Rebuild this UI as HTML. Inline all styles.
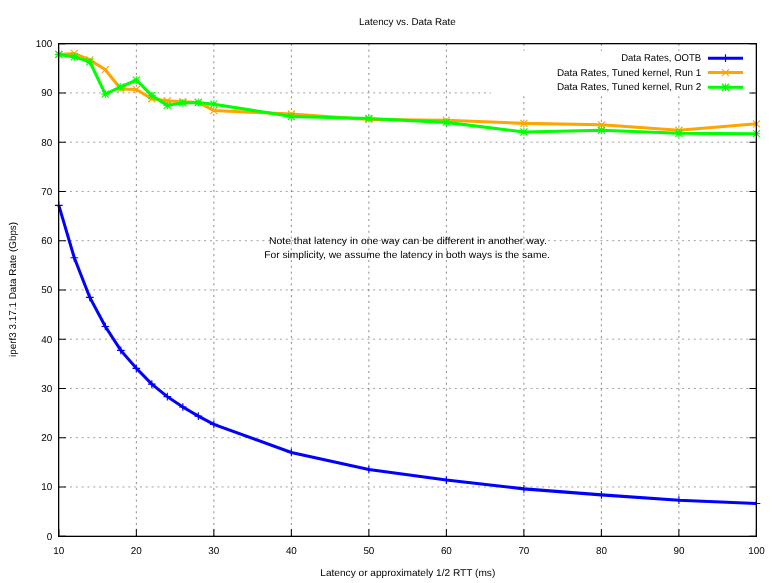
<!DOCTYPE html>
<html><head><meta charset="utf-8"><title>Latency vs. Data Rate</title>
<style>html,body{margin:0;padding:0;background:#fff;}svg{display:block;}svg{will-change:transform;}text{font-family:"Liberation Sans",sans-serif;font-size:9.90px;fill:#000;text-rendering:geometricPrecision;}</style>
</head><body>
<svg width="777" height="583" viewBox="0 0 777 583">
<rect x="0" y="0" width="777" height="583" fill="#ffffff"/>
<g stroke="#000" stroke-opacity="0.46" stroke-width="0.8" stroke-dasharray="2.05 3.78" fill="none">
<path d="M58.30 486.95H756.40"/>
<path d="M58.30 437.69H756.40"/>
<path d="M58.30 388.44H756.40"/>
<path d="M58.30 339.18H756.40"/>
<path d="M58.30 289.93H756.40"/>
<path d="M58.30 240.67H756.40"/>
<path d="M58.30 191.41H756.40"/>
<path d="M58.30 142.16H756.40"/>
<path d="M58.30 92.90H756.40"/>
</g>
<g stroke="#000" stroke-opacity="0.56" stroke-width="0.8" stroke-dasharray="2.15 3.695" fill="none">
<path d="M136.36 43.65V536.20"/>
<path d="M213.86 43.65V536.20"/>
<path d="M291.37 43.65V536.20"/>
<path d="M368.87 43.65V536.20"/>
<path d="M446.38 43.65V536.20"/>
<path d="M523.88 43.65V536.20"/>
<path d="M601.39 43.65V536.20"/>
<path d="M678.89 43.65V536.20"/>
</g>
<g stroke="#000" stroke-width="1.05" fill="none">
<path d="M58.85 536.20h7.00M756.40 536.20h-7.00"/>
<path d="M58.85 486.95h7.00M756.40 486.95h-7.00"/>
<path d="M58.85 437.69h7.00M756.40 437.69h-7.00"/>
<path d="M58.85 388.44h7.00M756.40 388.44h-7.00"/>
<path d="M58.85 339.18h7.00M756.40 339.18h-7.00"/>
<path d="M58.85 289.93h7.00M756.40 289.93h-7.00"/>
<path d="M58.85 240.67h7.00M756.40 240.67h-7.00"/>
<path d="M58.85 191.41h7.00M756.40 191.41h-7.00"/>
<path d="M58.85 142.16h7.00M756.40 142.16h-7.00"/>
<path d="M58.85 92.90h7.00M756.40 92.90h-7.00"/>
<path d="M58.85 43.65h7.00M756.40 43.65h-7.00"/>
<path d="M58.85 536.20v-7.00"/>
<path d="M136.36 536.20v-7.00"/>
<path d="M213.86 536.20v-7.00"/>
<path d="M291.37 536.20v-7.00"/>
<path d="M368.87 536.20v-7.00"/>
<path d="M446.38 536.20v-7.00"/>
<path d="M523.88 536.20v-7.00"/>
<path d="M601.39 536.20v-7.00"/>
<path d="M678.89 536.20v-7.00"/>
<path d="M756.40 536.20v-7.00"/>
</g>
<g text-anchor="end">
<text x="52.3" y="539.65">0</text>
<text x="52.3" y="490.40">10</text>
<text x="52.3" y="441.14">20</text>
<text x="52.3" y="391.89">30</text>
<text x="52.3" y="342.63">40</text>
<text x="52.3" y="293.38">50</text>
<text x="52.3" y="244.12">60</text>
<text x="52.3" y="194.86">70</text>
<text x="52.3" y="145.61">80</text>
<text x="52.3" y="96.35">90</text>
<text x="52.3" y="47.10">100</text>
</g>
<g text-anchor="middle">
<text x="58.85" y="554.2">10</text>
<text x="136.36" y="554.2">20</text>
<text x="213.86" y="554.2">30</text>
<text x="291.37" y="554.2">40</text>
<text x="368.87" y="554.2">50</text>
<text x="446.38" y="554.2">60</text>
<text x="523.88" y="554.2">70</text>
<text x="601.39" y="554.2">80</text>
<text x="678.89" y="554.2">90</text>
<text x="756.40" y="554.2">100</text>
</g>
<text x="407.9" y="243.8" text-anchor="middle" textLength="277.8" lengthAdjust="spacingAndGlyphs">Note that latency in one way can be different in another way.</text>
<text x="407.1" y="257.9" text-anchor="middle" textLength="285.6" lengthAdjust="spacingAndGlyphs">For simplicity, we assume the latency in both ways is the same.</text>
<text x="407.4" y="25.1" text-anchor="middle" textLength="96.8" lengthAdjust="spacingAndGlyphs">Latency vs. Data Rate</text>
<text x="407.8" y="576.0" text-anchor="middle" textLength="175" lengthAdjust="spacingAndGlyphs">Latency or approximately 1/2 RTT (ms)</text>
<text transform="translate(15.7 289.4) rotate(-90)" text-anchor="middle" textLength="135" lengthAdjust="spacingAndGlyphs">iperf3 3.17.1 Data Rate (Gbps)</text>
<path d="M58.80 205.35L74.30 257.79L89.81 297.43L105.31 326.48L120.81 350.37L136.32 368.34L151.82 384.09L167.32 396.65L182.83 406.99L198.33 416.10L213.83 424.32L291.35 452.49L368.87 469.53L446.38 480.11L523.90 488.88L601.42 494.88L678.93 500.20L756.45 503.50" stroke="#0000ff" stroke-width="3.03" fill="none" stroke-linejoin="miter" stroke-linecap="butt"/>
<path d="M54.95 205.35h7.70M58.80 201.50v7.70M70.45 257.79h7.70M74.30 253.94v7.70M85.96 297.43h7.70M89.81 293.58v7.70M101.46 326.48h7.70M105.31 322.63v7.70M116.96 350.37h7.70M120.81 346.52v7.70M132.47 368.34h7.70M136.32 364.49v7.70M147.97 384.09h7.70M151.82 380.24v7.70M163.47 396.65h7.70M167.32 392.80v7.70M178.98 406.99h7.70M182.83 403.14v7.70M194.48 416.10h7.70M198.33 412.25v7.70M209.98 424.32h7.70M213.83 420.47v7.70M287.50 452.49h7.70M291.35 448.64v7.70M365.02 469.53h7.70M368.87 465.68v7.70M442.53 480.11h7.70M446.38 476.26v7.70M520.05 488.88h7.70M523.90 485.03v7.70M597.57 494.88h7.70M601.42 491.03v7.70M675.08 500.20h7.70M678.93 496.35v7.70M752.60 503.50h7.70M756.45 499.65v7.70" stroke="#0000ff" stroke-width="1.15" fill="none"/>
<path d="M58.80 54.43L74.30 53.45L89.81 59.85L105.31 69.70L120.81 88.90L136.32 89.39L151.82 98.75L167.32 100.72L182.83 101.70L198.33 102.44L213.83 110.57L291.35 114.01L368.87 119.43L446.38 120.17L523.90 123.37L601.42 124.85L678.93 130.26L756.45 123.86" stroke="#ffa500" stroke-width="3.03" fill="none" stroke-linejoin="miter" stroke-linecap="butt"/>
<path d="M55.30 50.93l7.00 7.00M55.30 57.93l7.00 -7.00M70.80 49.95l7.00 7.00M70.80 56.95l7.00 -7.00M86.31 56.35l7.00 7.00M86.31 63.35l7.00 -7.00M101.81 66.20l7.00 7.00M101.81 73.20l7.00 -7.00M117.31 85.40l7.00 7.00M117.31 92.40l7.00 -7.00M132.82 85.89l7.00 7.00M132.82 92.89l7.00 -7.00M148.32 95.25l7.00 7.00M148.32 102.25l7.00 -7.00M163.82 97.22l7.00 7.00M163.82 104.22l7.00 -7.00M179.33 98.20l7.00 7.00M179.33 105.20l7.00 -7.00M194.83 98.94l7.00 7.00M194.83 105.94l7.00 -7.00M210.33 107.07l7.00 7.00M210.33 114.07l7.00 -7.00M287.85 110.51l7.00 7.00M287.85 117.51l7.00 -7.00M365.37 115.93l7.00 7.00M365.37 122.93l7.00 -7.00M442.88 116.67l7.00 7.00M442.88 123.67l7.00 -7.00M520.40 119.87l7.00 7.00M520.40 126.87l7.00 -7.00M597.92 121.35l7.00 7.00M597.92 128.35l7.00 -7.00M675.43 126.76l7.00 7.00M675.43 133.76l7.00 -7.00M752.95 120.36l7.00 7.00M752.95 127.36l7.00 -7.00" stroke="#ffa500" stroke-width="1.15" fill="none"/>
<path d="M58.80 54.43L74.30 56.89L89.81 61.82L105.31 94.07L120.81 86.93L136.32 80.04L151.82 95.50L167.32 105.40L182.83 102.84L198.33 102.44L213.83 104.17L291.35 116.48L368.87 118.44L446.38 122.38L523.90 131.99L601.42 130.26L678.93 133.22L756.45 133.71" stroke="#00ff00" stroke-width="3.03" fill="none" stroke-linejoin="miter" stroke-linecap="butt"/>
<path d="M54.95 54.43h7.70M58.80 50.58v7.70M55.30 50.93l7.00 7.00M55.30 57.93l7.00 -7.00M70.45 56.89h7.70M74.30 53.04v7.70M70.80 53.39l7.00 7.00M70.80 60.39l7.00 -7.00M85.96 61.82h7.70M89.81 57.97v7.70M86.31 58.32l7.00 7.00M86.31 65.32l7.00 -7.00M101.46 94.07h7.70M105.31 90.22v7.70M101.81 90.57l7.00 7.00M101.81 97.57l7.00 -7.00M116.96 86.93h7.70M120.81 83.08v7.70M117.31 83.43l7.00 7.00M117.31 90.43l7.00 -7.00M132.47 80.04h7.70M136.32 76.19v7.70M132.82 76.54l7.00 7.00M132.82 83.54l7.00 -7.00M147.97 95.50h7.70M151.82 91.65v7.70M148.32 92.00l7.00 7.00M148.32 99.00l7.00 -7.00M163.47 105.40h7.70M167.32 101.55v7.70M163.82 101.90l7.00 7.00M163.82 108.90l7.00 -7.00M178.98 102.84h7.70M182.83 98.99v7.70M179.33 99.34l7.00 7.00M179.33 106.34l7.00 -7.00M194.48 102.44h7.70M198.33 98.59v7.70M194.83 98.94l7.00 7.00M194.83 105.94l7.00 -7.00M209.98 104.17h7.70M213.83 100.32v7.70M210.33 100.67l7.00 7.00M210.33 107.67l7.00 -7.00M287.50 116.48h7.70M291.35 112.63v7.70M287.85 112.98l7.00 7.00M287.85 119.98l7.00 -7.00M365.02 118.44h7.70M368.87 114.59v7.70M365.37 114.94l7.00 7.00M365.37 121.94l7.00 -7.00M442.53 122.38h7.70M446.38 118.53v7.70M442.88 118.88l7.00 7.00M442.88 125.88l7.00 -7.00M520.05 131.99h7.70M523.90 128.14v7.70M520.40 128.49l7.00 7.00M520.40 135.49l7.00 -7.00M597.57 130.26h7.70M601.42 126.41v7.70M597.92 126.76l7.00 7.00M597.92 133.76l7.00 -7.00M675.08 133.22h7.70M678.93 129.37v7.70M675.43 129.72l7.00 7.00M675.43 136.72l7.00 -7.00M752.60 133.71h7.70M756.45 129.86v7.70M752.95 130.21l7.00 7.00M752.95 137.21l7.00 -7.00" stroke="#00ff00" stroke-width="1.15" fill="none"/>
<rect x="491" y="50.9" width="258" height="43.5" fill="#fff"/>
<text x="701.2" y="61.30" text-anchor="end" textLength="80.0" lengthAdjust="spacingAndGlyphs">Data Rates, OOTB</text>
<path d="M708 58.15H743" stroke="#0000ff" stroke-width="3.03" fill="none"/>
<path d="M721.65 58.15h7.70M725.50 54.30v7.70" stroke="#0000ff" stroke-width="1.15" fill="none"/>
<text x="701.2" y="75.75" text-anchor="end" textLength="144.3" lengthAdjust="spacingAndGlyphs">Data Rates, Tuned kernel, Run 1</text>
<path d="M708 72.60H743" stroke="#ffa500" stroke-width="3.03" fill="none"/>
<path d="M722.00 69.10l7.00 7.00M722.00 76.10l7.00 -7.00" stroke="#ffa500" stroke-width="1.15" fill="none"/>
<text x="701.2" y="90.40" text-anchor="end" textLength="144.3" lengthAdjust="spacingAndGlyphs">Data Rates, Tuned kernel, Run 2</text>
<path d="M708 87.25H743" stroke="#00ff00" stroke-width="3.03" fill="none"/>
<path d="M721.65 87.25h7.70M725.50 83.40v7.70M722.00 83.75l7.00 7.00M722.00 90.75l7.00 -7.00" stroke="#00ff00" stroke-width="1.15" fill="none"/>
<rect x="58.65" y="43.65" width="697.7" height="492.7" fill="none" stroke="#000" stroke-width="1.3"/>
</svg>
</body></html>
